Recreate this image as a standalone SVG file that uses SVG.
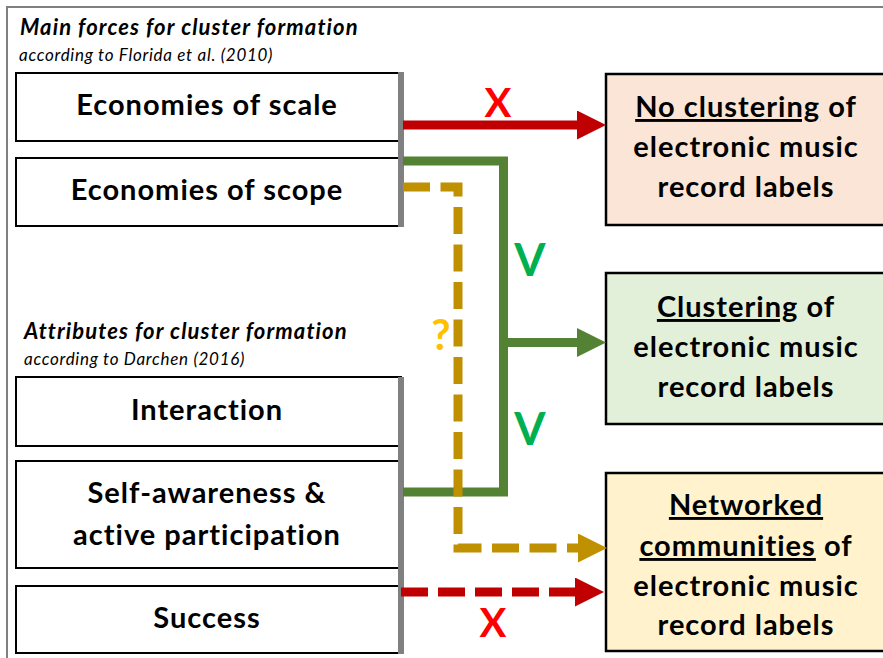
<svg xmlns="http://www.w3.org/2000/svg" width="883" height="658" viewBox="0 0 883 658">
  <style>
    text { font-family: Lato, "Liberation Sans", sans-serif; }
    .heading { font-size: 22px; letter-spacing: 1.1px; font-weight: bold; font-style: italic; fill: #000; }
    .source { font-size: 17px; letter-spacing: 0.7px; font-style: italic; fill: #000; }
    .box { fill: #fff; stroke: #000; stroke-width: 2; }
    .bar { fill: #808080; }
    .label { font-size: 29px; letter-spacing: 1px; font-weight: bold; fill: #000; text-anchor: middle; }
    .outcome { stroke: #000; stroke-width: 2.5; }
    .otext { font-size: 29px; letter-spacing: 1px; font-weight: bold; fill: #000; text-anchor: middle; }
    .u { text-decoration: underline; }
    .conn { fill: none; stroke-width: 9; stroke-linejoin: miter; }
    .mark { font-weight: bold; text-anchor: middle; }
  </style>
  <defs>
    <marker id="head-red" viewBox="0 0 29 29" markerWidth="29" markerHeight="29" markerUnits="userSpaceOnUse" refX="0" refY="14.5" orient="auto">
      <path d="M0,0 L29,14.5 L0,29 z" fill="#C00000"/>
    </marker>
    <marker id="head-green" viewBox="0 0 29 29" markerWidth="29" markerHeight="29" markerUnits="userSpaceOnUse" refX="0" refY="14.5" orient="auto">
      <path d="M0,0 L29,14.5 L0,29 z" fill="#548235"/>
    </marker>
    <marker id="head-gold" viewBox="0 0 29 29" markerWidth="29" markerHeight="29" markerUnits="userSpaceOnUse" refX="0" refY="14.5" orient="auto">
      <path d="M0,0 L29,14.5 L0,29 z" fill="#BF9000"/>
    </marker>
  </defs>

  <rect width="883" height="658" fill="#fff"/>
  <!-- outer frame -->
  <rect x="7" y="7" width="1000" height="1000" fill="none" stroke="#808080" stroke-width="2"/>

  <!-- section headings -->
  <text class="heading" x="20" y="35">Main forces for cluster formation</text>
  <text class="source" x="19" y="61">according to Florida et al. (2010)</text>
  <text class="heading" x="24" y="339">Attributes for cluster formation</text>
  <text class="source" x="24" y="365">according to Darchen (2016)</text>

  <!-- forces -->
  <g id="economies-of-scale">
    <rect class="box" x="16" y="73" width="385" height="68"/>
    <text class="label" x="207" y="115">Economies of scale</text>
  </g>
  <g id="economies-of-scope">
    <rect class="box" x="16" y="158" width="385" height="68"/>
    <text class="label" x="207" y="200">Economies of scope</text>
  </g>
  <rect class="bar" x="398" y="72" width="6" height="155"/>

  <!-- attributes -->
  <g id="interaction">
    <rect class="box" x="16" y="377" width="385" height="69"/>
    <text class="label" x="207" y="420">Interaction</text>
  </g>
  <g id="self-awareness">
    <rect class="box" x="16" y="461" width="385" height="107"/>
    <text class="label" x="207" y="503">Self-awareness &amp;</text>
    <text class="label" x="207" y="545">active participation</text>
  </g>
  <g id="success">
    <rect class="box" x="16" y="586" width="385" height="67"/>
    <text class="label" x="207" y="628">Success</text>
  </g>
  <rect class="bar" x="398" y="377" width="6" height="277"/>

  <!-- outcomes -->
  <g id="no-clustering">
    <rect class="outcome" x="606" y="74" width="300" height="151" fill="#FBE5D6"/>
    <text class="otext" x="746" y="117"><tspan class="u">No clustering</tspan> of</text>
    <text class="otext" x="746" y="157">electronic music</text>
    <text class="otext" x="746" y="197">record labels</text>
  </g>
  <g id="clustering">
    <rect class="outcome" x="606" y="273" width="300" height="151" fill="#E2F0D9"/>
    <text class="otext" x="746" y="317"><tspan class="u">Clustering</tspan> of</text>
    <text class="otext" x="746" y="357">electronic music</text>
    <text class="otext" x="746" y="397">record labels</text>
  </g>
  <g id="networked-communities">
    <rect class="outcome" x="606" y="473" width="300" height="178" fill="#FFF2CC"/>
    <text class="otext" x="746" y="515"><tspan class="u">Networked</tspan></text>
    <text class="otext" x="746" y="556"><tspan class="u">communities</tspan> of</text>
    <text class="otext" x="746" y="596">electronic music</text>
    <text class="otext" x="746" y="635">record labels</text>
  </g>

  <!-- connectors -->
  <g id="connectors">
    <path class="conn" d="M403,125 H577" stroke="#C00000" marker-end="url(#head-red)"/>
    <path class="conn" d="M403,161 H503.5 V492 H403" stroke="#548235"/>
    <path class="conn" d="M503.5,342.5 H577" stroke="#548235" marker-end="url(#head-green)"/>
    <path class="conn" d="M403,187 H458 V548 H578" stroke="#BF9000" stroke-dasharray="27 10.5" marker-end="url(#head-gold)"/>
    <path class="conn" d="M401,592 H575" stroke="#C00000" stroke-dasharray="27 10" marker-end="url(#head-red)"/>
  </g>

  <!-- connector verdicts -->
  <text class="mark" x="498" y="117" font-size="40" fill="#FF0000">X</text>
  <text class="mark" x="530" y="276" font-size="45" fill="#00B050">V</text>
  <text class="mark" x="530" y="445" font-size="45" fill="#00B050">V</text>
  <text class="mark" x="441" y="350" font-size="42" fill="#FFC000">?</text>
  <text class="mark" x="493" y="637" font-size="40" fill="#FF0000">X</text>
</svg>
